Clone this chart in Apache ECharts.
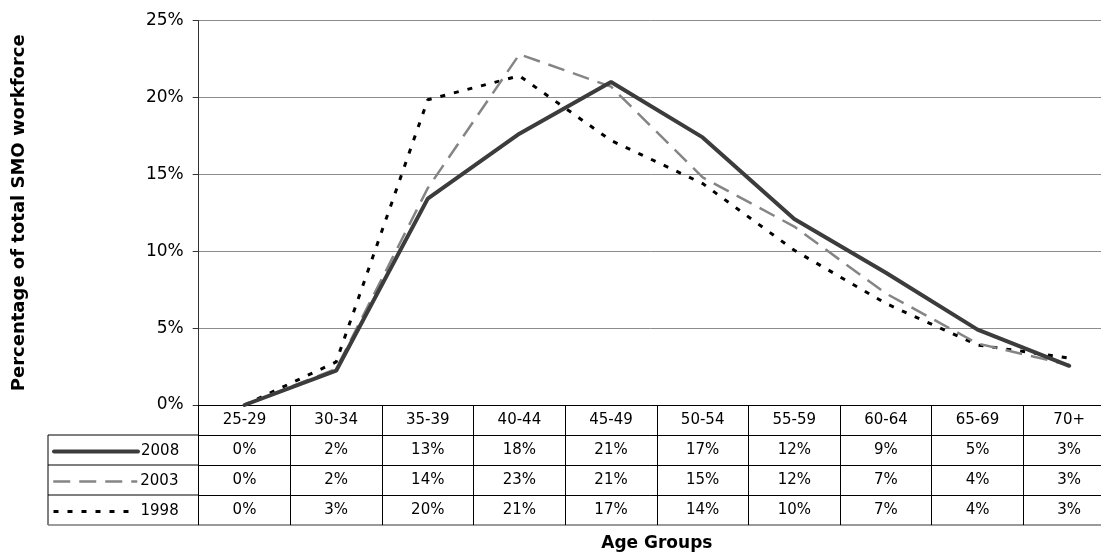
<!DOCTYPE html>
<html>
<head>
<meta charset="utf-8">
<script src="https://cdn.jsdelivr.net/npm/echarts@6/dist/echarts.min.js"></script>
<style>
html,body{margin:0;padding:0;background:#ffffff;}
#chart{width:1101px;height:553px;}
</style>
</head>
<body>
<div id="chart"></div>
<script>
// ---------- data ----------
const categories = ['25-29','30-34','35-39','40-44','45-49','50-54','55-59','60-64','65-69','70+'];
const seriesNames = ['2008','2003','1998'];
const values2008 = [0, 2.23, 13.42, 17.64, 21.0, 17.4, 12.1, 8.6, 4.9, 2.55];
const values2003 = [0, 2.35, 14.1, 22.8, 20.7, 14.8, 11.6, 7.25, 4.0, 2.6];
const values1998 = [0, 2.8, 19.85, 21.4, 17.2, 14.4, 10.06, 6.6, 3.9, 3.05];
const yMin = 0, yMax = 25, yStep = 5;
const xTitle = 'Age Groups';
const yTitle = 'Percentage of total SMO workforce';

// ---------- layout / style ----------
const FONT = 'DejaVu Sans';
const GRID_LEFT = 198.7, GRID_TOP = 20.5, GRID_RIGHT = -14, AXIS_Y = 405, ROW_H = 30;
const TABLE_LEFT = 48;
const GRID_BOTTOM = 553 - AXIS_Y;
const LEG_ICON_H = 12;

const tableRows = [values2008, values2003, values1998];

const chart = echarts.init(document.getElementById('chart'), null, {renderer: 'canvas'});

const xAxes = [{
  type: 'category', data: categories, gridIndex: 0, position: 'bottom', boundaryGap: true,
  axisLine: {show: true, lineStyle: {color: '#000', width: 1}},
  axisTick: {show: true, length: ROW_H * 4, lineStyle: {color: '#000', width: 1}},
  axisLabel: {interval: 0, margin: 0, lineHeight: ROW_H, fontSize: 15, color: '#000', fontFamily: FONT},
  splitLine: {show: false}
}];
tableRows.forEach((row, i) => {
  xAxes.push({
    type: 'category', data: categories, gridIndex: 0, position: 'bottom', offset: ROW_H * (i + 1),
    axisLine: {show: true, lineStyle: {color: '#000', width: 1}},
    axisTick: {show: false},
    axisLabel: {
      interval: 0, margin: 0, lineHeight: ROW_H, fontSize: 15, color: '#000', fontFamily: FONT,
      formatter: (v, idx) => Math.round(row[idx]) + '%'
    },
    splitLine: {show: false}
  });
});
xAxes.push({
  type: 'category', data: categories, gridIndex: 0, position: 'bottom', offset: ROW_H * 4,
  axisLine: {show: true, lineStyle: {color: '#7a7a7a', width: 1.5}},
  axisTick: {show: false},
  axisLabel: {show: false},
  splitLine: {show: false},
  name: xTitle, nameLocation: 'middle', nameGap: 10,
  nameTextStyle: {fontSize: 17, fontWeight: 'bold', color: '#000', fontFamily: FONT, verticalAlign: 'top'}
});

const styles = {
  '2008': {color: '#3c3c3c', width: 4, type: 'solid'},
  '2003': {color: '#858585', width: 2.5, type: [17, 9]},
  '1998': {color: '#000000', width: 3, type: [5, 9]}
};
const dataByName = {'2008': values2008, '2003': values2003, '1998': values1998};

// draw order: 1998 bottom, 2008 on top
const series = ['1998', '2003', '2008'].map(n => ({
  name: n, type: 'line', xAxisIndex: 0, yAxisIndex: 0,
  data: dataByName[n], symbol: 'none', smooth: false,
  lineStyle: {color: styles[n].color, width: styles[n].width, type: styles[n].type, cap: n === '2008' ? 'round' : 'butt'},
  itemStyle: {color: styles[n].color},
  emphasis: {disabled: true},
  z: n === '2008' ? 5 : (n === '2003' ? 4 : 3)
}));

// one legend per table row so each sits centred in its row
const legends = seriesNames.map((n, i) => ({
  orient: 'horizontal', left: 52, top: AXIS_Y + ROW_H * (i + 1) + (ROW_H - LEG_ICON_H) / 2, padding: 0,
  itemWidth: 84, itemHeight: LEG_ICON_H, itemGap: 0, selectedMode: false,
  textStyle: {fontSize: 15, color: '#000', fontFamily: FONT, padding: [0, 0, 0, -2]},
  data: [{
    name: n,
    lineStyle: {width: styles[n].width, type: styles[n].type, color: styles[n].color, cap: n === '2008' ? 'round' : 'butt'},
    itemStyle: {opacity: 0, borderWidth: 0}
  }]
}));

const option = {
  backgroundColor: '#ffffff',
  animation: false,
  textStyle: {fontFamily: FONT},
  grid: {left: GRID_LEFT, top: GRID_TOP, right: GRID_RIGHT, bottom: GRID_BOTTOM, containLabel: false, outerBoundsMode: 'none'},
  legend: legends,
  xAxis: xAxes,
  yAxis: [{
    type: 'value', min: yMin, max: yMax, interval: yStep,
    axisLine: {show: true, lineStyle: {color: '#333', width: 1}},
    axisTick: {show: true, length: 6, lineStyle: {color: '#333'}},
    axisLabel: {formatter: '{value}%', fontSize: 17, margin: 15, color: '#000', fontFamily: FONT},
    splitLine: {show: true, lineStyle: {color: '#8c8c8c', width: 1}},
    name: yTitle, nameLocation: 'middle', nameRotate: 90, nameGap: 170,
    nameTextStyle: {fontSize: 18, fontWeight: 'bold', color: '#000', fontFamily: FONT}
  }],
  series: series,
  graphic: [
    {type: 'line', shape: {x1: TABLE_LEFT, y1: AXIS_Y + ROW_H, x2: TABLE_LEFT, y2: AXIS_Y + ROW_H * 4}, style: {stroke: '#000', lineWidth: 1}},
    {type: 'line', shape: {x1: TABLE_LEFT, y1: AXIS_Y + ROW_H, x2: GRID_LEFT, y2: AXIS_Y + ROW_H}, style: {stroke: '#000', lineWidth: 1}},
    {type: 'line', shape: {x1: TABLE_LEFT, y1: AXIS_Y + ROW_H * 2, x2: GRID_LEFT, y2: AXIS_Y + ROW_H * 2}, style: {stroke: '#000', lineWidth: 1}},
    {type: 'line', shape: {x1: TABLE_LEFT, y1: AXIS_Y + ROW_H * 3, x2: GRID_LEFT, y2: AXIS_Y + ROW_H * 3}, style: {stroke: '#000', lineWidth: 1}},
    {type: 'line', shape: {x1: TABLE_LEFT, y1: AXIS_Y + ROW_H * 4, x2: GRID_LEFT, y2: AXIS_Y + ROW_H * 4}, style: {stroke: '#7a7a7a', lineWidth: 1.5}}
  ]
};
chart.setOption(option);
</script>
</body>
</html>
